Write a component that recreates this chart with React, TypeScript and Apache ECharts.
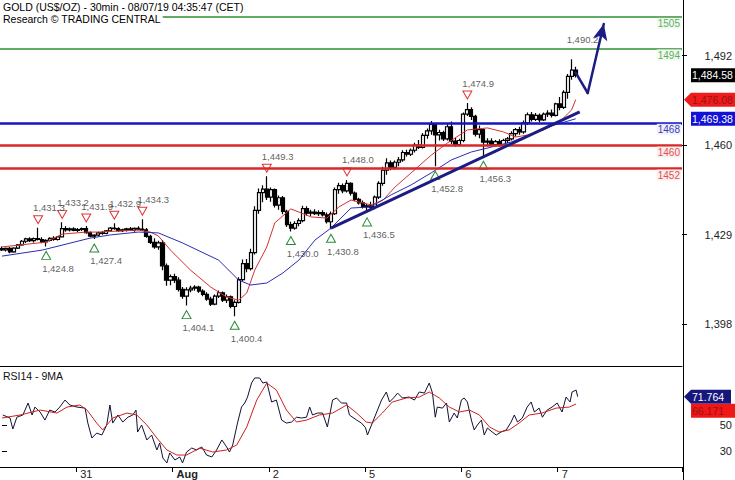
import React, { useEffect, useRef } from 'react';
import * as echarts from 'echarts';

const W = 735;
const H = 480;
const PLOT_RIGHT = 683;
const MAIN_TOP = 0;
const MAIN_H = 366;
const RSI_TOP = 366;
const RSI_H = 101;
const FONT = '"Liberation Sans", Arial, sans-serif';

// ---- time axis (hourly slots) ----
const dayNames = ['30', '31', 'Aug', '2', '5', '6', '7', '8'];
const dayBars = [19, 24, 24, 24, 24, 24, 24, 7];
const firstHour = 5;
const labelledDays = ['31', 'Aug', '2', '5', '6', '7'];

const categories: string[] = [];
dayNames.forEach((d, i) => {
  const start = i === 0 ? firstHour : 0;
  for (let k = 0; k < dayBars[i]; k++) categories.push(`${d}|${String(start + k).padStart(2, '0')}`);
});

// ---- price candles [open, high, low, close] ----
const candles: number[][] = [
  [1424.0, 1424.8, 1423.2, 1423.6], [1423.6, 1424.4, 1423.0, 1424.1], [1424.1, 1424.6, 1422.4, 1422.9],
  [1422.9, 1424.5, 1422.6, 1424.2], [1424.2, 1425.6, 1423.9, 1425.3], [1425.3, 1427.0, 1425.0, 1426.6],
  [1426.6, 1427.8, 1426.0, 1427.4], [1427.4, 1428.0, 1426.3, 1426.8], [1426.8, 1427.9, 1426.2, 1427.5],
  [1427.5, 1431.3, 1426.9, 1427.2], [1427.2, 1428.0, 1425.9, 1426.4], [1426.4, 1427.3, 1424.8, 1426.9],
  [1426.9, 1428.0, 1426.5, 1427.6], [1427.6, 1428.3, 1426.8, 1427.2], [1427.2, 1428.4, 1426.9, 1428.1],
  [1428.1, 1433.2, 1427.9, 1431.0], [1431.0, 1431.8, 1429.9, 1430.6], [1430.6, 1431.4, 1430.0, 1430.9],
  [1430.9, 1431.5, 1430.1, 1430.4], [1430.4, 1431.2, 1429.8, 1430.7], [1430.7, 1431.4, 1430.2, 1431.0],
  [1431.0, 1431.9, 1429.2, 1429.6], [1429.6, 1430.0, 1428.0, 1428.4], [1428.4, 1429.0, 1427.4, 1428.7],
  [1428.7, 1429.9, 1428.3, 1429.5], [1429.5, 1430.2, 1428.9, 1429.3], [1429.3, 1430.5, 1429.0, 1430.2],
  [1430.2, 1431.6, 1429.9, 1431.2], [1431.2, 1432.9, 1430.6, 1431.0], [1431.0, 1431.5, 1429.9, 1430.3],
  [1430.3, 1431.0, 1429.8, 1430.6], [1430.6, 1431.3, 1430.0, 1430.9], [1430.9, 1431.6, 1430.2, 1430.5],
  [1430.5, 1431.4, 1429.9, 1431.1], [1431.1, 1431.8, 1430.4, 1430.8], [1430.8, 1434.3, 1430.2, 1430.6],
  [1430.6, 1431.2, 1427.8, 1428.3], [1428.3, 1428.9, 1425.6, 1426.2], [1426.2, 1427.6, 1424.0, 1424.6],
  [1424.6, 1426.8, 1423.6, 1426.0], [1426.0, 1427.0, 1416.5, 1418.0], [1418.0, 1418.8, 1411.0, 1413.0],
  [1413.0, 1415.0, 1411.2, 1414.2], [1414.2, 1415.2, 1412.0, 1413.0], [1413.0, 1414.0, 1409.0, 1409.8],
  [1409.8, 1410.6, 1406.5, 1407.4], [1407.4, 1410.5, 1404.1, 1409.6], [1409.6, 1411.0, 1408.8, 1410.2],
  [1410.2, 1411.2, 1409.3, 1410.6], [1410.6, 1411.0, 1408.6, 1409.2], [1409.2, 1409.8, 1407.4, 1408.0],
  [1408.0, 1408.8, 1405.8, 1406.4], [1406.4, 1407.2, 1404.0, 1404.6], [1404.6, 1408.0, 1404.2, 1407.4],
  [1407.4, 1409.4, 1406.8, 1408.6], [1408.6, 1409.0, 1405.4, 1406.0], [1406.0, 1408.0, 1405.0, 1407.2],
  [1407.2, 1407.6, 1403.2, 1403.8], [1403.8, 1406.0, 1400.4, 1405.2], [1405.2, 1414.0, 1404.8, 1413.2],
  [1413.2, 1420.2, 1412.6, 1418.8], [1418.8, 1420.4, 1415.8, 1417.0], [1417.0, 1424.0, 1416.4, 1422.6],
  [1422.6, 1438.8, 1422.0, 1437.4], [1437.4, 1445.0, 1436.2, 1443.6], [1443.6, 1446.2, 1440.2, 1444.8],
  [1444.8, 1449.3, 1441.0, 1442.0], [1442.0, 1445.4, 1440.4, 1444.6], [1444.6, 1445.0, 1438.4, 1439.2],
  [1439.2, 1442.6, 1437.6, 1441.8], [1441.8, 1442.4, 1436.0, 1437.0], [1437.0, 1437.6, 1431.6, 1432.4],
  [1432.4, 1433.4, 1430.0, 1431.2], [1431.2, 1433.6, 1430.6, 1432.8], [1432.8, 1434.6, 1431.8, 1433.8],
  [1433.8, 1439.0, 1433.2, 1438.0], [1438.0, 1438.8, 1435.6, 1436.4], [1436.4, 1437.6, 1435.4, 1436.8],
  [1436.8, 1437.8, 1435.8, 1436.2], [1436.2, 1437.4, 1435.4, 1436.6], [1436.6, 1437.4, 1435.2, 1435.8],
  [1435.8, 1436.6, 1432.8, 1433.4], [1433.4, 1437.0, 1430.8, 1436.2], [1436.2, 1445.4, 1435.8, 1444.6],
  [1444.6, 1447.0, 1443.2, 1446.0], [1446.0, 1446.8, 1443.4, 1444.2], [1444.2, 1448.0, 1443.6, 1446.8],
  [1446.8, 1447.2, 1442.6, 1443.4], [1443.4, 1444.0, 1440.6, 1441.2], [1441.2, 1441.8, 1439.4, 1440.0],
  [1440.0, 1440.8, 1438.0, 1438.6], [1438.6, 1439.6, 1436.5, 1439.0], [1439.0, 1440.4, 1437.8, 1438.4],
  [1438.4, 1442.6, 1437.8, 1442.0], [1442.0, 1447.6, 1441.4, 1446.8], [1446.8, 1452.6, 1446.0, 1451.4],
  [1451.4, 1455.6, 1449.8, 1454.0], [1454.0, 1454.8, 1451.4, 1452.4], [1452.4, 1454.8, 1451.6, 1454.2],
  [1454.2, 1456.0, 1452.8, 1455.0], [1455.0, 1458.4, 1454.4, 1457.6], [1457.6, 1458.6, 1456.2, 1457.0],
  [1457.0, 1459.0, 1456.4, 1458.4], [1458.4, 1461.0, 1457.6, 1460.2], [1460.2, 1462.0, 1458.8, 1459.4],
  [1459.4, 1464.4, 1459.0, 1463.6], [1463.6, 1466.0, 1462.4, 1465.2], [1465.2, 1468.6, 1463.8, 1467.4],
  [1467.4, 1467.8, 1452.8, 1463.8], [1463.8, 1465.6, 1461.8, 1464.6], [1464.6, 1465.2, 1461.6, 1462.4],
  [1462.4, 1467.8, 1461.8, 1466.6], [1466.6, 1468.4, 1460.6, 1461.6], [1461.6, 1462.8, 1459.6, 1460.4],
  [1460.4, 1462.4, 1459.8, 1461.8], [1461.8, 1471.6, 1461.2, 1471.0], [1471.0, 1474.9, 1470.4, 1472.6],
  [1472.6, 1473.4, 1469.0, 1470.2], [1470.2, 1470.8, 1463.2, 1464.0], [1464.0, 1467.0, 1462.6, 1465.6],
  [1465.6, 1466.0, 1456.3, 1461.2], [1461.2, 1462.6, 1459.8, 1461.6], [1461.6, 1462.6, 1459.6, 1460.4],
  [1460.4, 1462.0, 1459.8, 1461.4], [1461.4, 1462.2, 1459.6, 1460.2], [1460.2, 1462.4, 1459.8, 1461.8],
  [1461.8, 1463.0, 1460.8, 1462.4], [1462.4, 1465.0, 1461.8, 1464.2], [1464.2, 1466.2, 1463.2, 1465.6],
  [1465.6, 1466.6, 1463.8, 1464.8], [1464.8, 1468.8, 1464.2, 1468.0], [1468.0, 1471.6, 1467.2, 1470.8],
  [1470.8, 1471.8, 1468.4, 1469.2], [1469.2, 1471.4, 1468.6, 1470.6], [1470.6, 1471.2, 1468.2, 1469.0],
  [1469.0, 1471.6, 1468.6, 1471.0], [1471.0, 1472.4, 1470.0, 1471.4], [1471.4, 1472.6, 1469.8, 1470.6],
  [1470.6, 1475.0, 1470.2, 1474.6], [1474.6, 1477.0, 1472.4, 1473.4], [1473.4, 1479.4, 1472.8, 1478.6],
  [1478.6, 1485.0, 1476.4, 1484.2], [1484.2, 1490.2, 1483.0, 1486.4], [1486.4, 1487.6, 1483.8, 1484.58],
];

// ---- moving averages on price [slot, value] ----
const redMA: number[][] = [
  [0, 1424.6], [11, 1426.3], [15, 1429.1], [21, 1429.8], [24, 1429.8], [34, 1430.5], [37, 1429.8],
  [39, 1428.4], [42, 1423.5], [47, 1416.5], [52, 1410.6], [56, 1407.1], [59, 1406.0], [61, 1408.5],
  [63, 1416.5], [66, 1424.6], [68, 1433.0], [72, 1437.9], [74, 1436.8], [77, 1435.1], [81, 1434.7],
  [84, 1438.6], [87, 1441.0], [89, 1440.3], [92, 1439.3], [95, 1441.0], [98, 1445.6], [102, 1450.5],
  [107, 1456.7], [111, 1460.9], [116, 1465.5], [121, 1466.2], [125, 1464.8], [128, 1463.0],
  [131, 1463.7], [135, 1465.5], [139, 1468.3], [142, 1472.5], [143, 1476.1],
];
const blueMA: number[][] = [
  [0, 1421.4], [10, 1423.5], [22, 1427.7], [27, 1428.8], [34, 1429.8], [39, 1429.5], [45, 1426.0],
  [54, 1420.0], [59, 1413.0], [62, 1411.3], [66, 1412.0], [70, 1415.5], [74, 1420.0], [78, 1427.0],
  [82, 1431.2], [87, 1438.2], [92, 1438.6], [97, 1442.8], [102, 1446.3], [107, 1450.5], [112, 1455.0],
  [117, 1457.8], [122, 1459.5], [127, 1461.3], [132, 1464.1], [137, 1466.9], [143, 1469.4],
];

// ---- swing points ----
const highIdx = [9, 15, 21, 28, 35, 66, 86, 116];
const highVal = [1431.3, 1433.2, 1431.9, 1432.9, 1434.3, 1449.3, 1448.0, 1474.9];
const peakIdx = 142;
const peakVal = 1490.2;
const lowIdx = [11, 23, 46, 58, 72, 82, 91, 108, 120];
const lowVal = [1424.8, 1427.4, 1404.1, 1400.4, 1430.0, 1430.8, 1436.5, 1452.8, 1456.3];

// ---- horizontal levels ----
const levelValues = [1505, 1494, 1468, 1460, 1452];
const levelKind = ['target', 'target', 'pivot', 'support', 'support'];

// ---- trendline and projection ----
const trendFrom = [82, 1431.2];
const trendTo = [144, 1471.8];
const projection = [[143, 1485.5], [146, 1478.4], [150, 1502.5]];

// ---- axis ticks ----
const priceTicks = [1397.6, 1428.9, 1460.2, 1491.5];
const rsiTicks = [30, 50];

// ---- last values ----
const lastClose = 1484.58;
const lastRedMA = 1476.08;
const lastBlueMA = 1469.38;
const lastRSI = 71.764;
const lastRSIMA = 66.171;

// ---- RSI (slot position, value) ----
const rsiPos = [
  0.2, 2.0, 2.7, 3.7, 5.2, 6.5, 7.5, 8.2, 9.5, 10.7, 11.9, 13.2, 14.4, 15.7, 16.9, 18.7, 20.7, 21.4,
  22.4, 23.6, 24.9, 26.1, 26.9, 27.6, 28.9, 30.1, 31.4, 32.6, 33.4, 33.8, 34.8, 36.1, 37.3, 38.6,
  39.3, 40.1, 41.1, 41.8, 43.1, 44.3, 45.0, 46.0, 47.3, 48.5, 49.8, 51.0, 52.3, 53.5, 54.8, 56.0,
  56.7, 57.5, 58.7, 59.7, 60.5, 61.2, 62.2, 63.0, 64.2, 65.0, 66.0, 67.2, 68.4, 69.7, 70.9, 72.2,
  73.4, 74.7, 75.9, 76.7, 77.4, 78.6, 79.9, 81.1, 82.4, 83.4, 84.6, 85.9, 86.6, 88.4, 89.6, 90.6,
  91.1, 92.1, 93.3, 94.6, 95.8, 96.6, 97.8, 98.6, 99.8, 101.5, 102.8, 104.0, 105.3, 106.5, 107.3,
  108.0, 108.5, 109.8, 110.8, 111.5, 112.7, 113.5, 114.5, 115.2, 116.0, 117.0, 117.7, 118.5, 119.5,
  120.2, 121.0, 122.2, 123.2, 124.4, 125.7, 126.9, 127.7, 128.5, 129.7, 130.9, 131.9, 132.7, 133.9,
  134.7, 135.9, 137.1, 138.4, 139.6, 140.6, 141.6, 142.1, 143.1, 143.5,
];
const rsiVal = [
  57.7, 55.4, 46.9, 56.0, 57.7, 66.9, 57.7, 63.8, 60.0, 53.8, 61.5, 60.0, 63.8, 69.2, 65.4, 63.8, 63.0, 51.5,
  40.0, 43.8, 42.3, 50.0, 65.4, 51.5, 57.7, 52.3, 56.0, 57.7, 61.5, 44.6, 50.0, 38.5, 42.3, 30.8,
  36.2, 24.6, 20.8, 28.5, 23.1, 25.4, 20.8, 29.2, 32.3, 30.8, 33.1, 26.9, 25.4, 30.8, 38.5, 33.1,
  29.2, 34.6, 51.5, 63.8, 66.9, 71.5, 82.3, 86.2, 86.2, 82.3, 83.1, 67.7, 69.2, 53.8, 51.5, 52.3,
  56.0, 55.4, 56.0, 63.8, 57.7, 59.2, 59.2, 48.5, 69.2, 70.8, 66.9, 66.9, 57.7, 53.8, 51.5, 48.0,
  42.3, 50.0, 59.2, 69.2, 75.4, 67.7, 71.5, 74.6, 70.8, 71.5, 69.2, 75.4, 74.6, 82.3, 74.6,
  56.0, 63.8, 63.0, 66.9, 52.3, 59.2, 55.4, 69.2, 70.8, 67.7, 53.8, 46.2, 50.0, 53.8,
  42.3, 47.7, 44.6, 42.3, 44.6, 46.2, 52.3, 57.7, 52.3, 55.4, 63.8, 67.7, 60.0, 63.0,
  56.0, 61.5, 63.8, 66.9, 60.0, 71.5, 67.7, 75.4, 76.9, 71.8,
];
const rsiMAPos = [
  0, 4.5, 9.5, 13.7, 16.2, 19.4, 21.2, 23.6, 25.1, 27.6, 31.1, 33.6, 36.1, 38.6, 41.1, 43.6, 46.0, 49.3,
  52.5, 56.0, 58.5, 61.0, 63.5, 66.0, 68.4, 70.9, 73.4, 75.9, 79.1, 82.4, 85.9, 88.4, 90.8, 92.3, 94.8,
  97.3, 100.8, 104.0, 106.5, 109.0, 111.5, 114.0, 116.5, 119.0, 121.5, 123.9, 126.4, 128.9, 131.4,
  134.6, 138.1, 141.4, 143.1,
];
const rsiMAVal = [
  55.4, 57.7, 61.5, 59.2, 63.8, 65.4, 61.5, 51.5, 46.2, 55.4, 59.2, 57.7, 50.0, 40.0, 30.8, 26.9, 26.9, 32.3,
  29.2, 30.8, 34.6, 48.5, 69.2, 82.3, 76.9, 61.5, 52.3, 53.8, 57.7, 59.2, 65.4, 59.2, 52.3, 51.5, 59.2,
  67.7, 70.8, 71.5, 75.4, 70.8, 63.8, 60.0, 61.5, 57.7, 48.5, 44.6, 46.2, 51.5, 57.7,
  59.2, 63.0, 63.8, 66.171,
];

const fmt1 = (v: number) => v.toLocaleString('en-US', { minimumFractionDigits: 1, maximumFractionDigits: 1 });
const fmt2 = (v: number) => v.toLocaleString('en-US', { minimumFractionDigits: 2, maximumFractionDigits: 2 });

const levelStyle: Record<string, any> = {
  target: { color: '#2f8f2f', width: 1.5, text: '#5fae5f', bg: 'rgba(240,250,240,0.9)' },
  pivot: { color: '#1414c8', width: 2.5, text: '#3a3ab8', bg: 'rgba(240,240,252,0.9)' },
  support: { color: '#d82828', width: 2.5, text: '#e05050', bg: 'rgba(252,236,236,0.9)' },
};

const isDayStart = (_i: number, value: string) => {
  const [d, h] = String(value).split('|');
  return h === '00' && labelledDays.includes(d);
};

export default function App() {
  const ref = useRef<HTMLDivElement>(null);

  useEffect(() => {
    if (!ref.current) return;
    const chart = echarts.init(ref.current, undefined, { renderer: 'svg' });
    const navy = '#1c1c84';
    const trendStyle = { color: navy, width: 3, type: 'solid' };
    const projStyle = { color: navy, width: 2.5, type: 'solid', cap: 'round' };

    const markLineData: any[] = levelValues.map((v, i) => {
      const s = levelStyle[levelKind[i]];
      return {
        yAxis: v,
        lineStyle: { color: s.color, width: s.width, type: 'solid' },
        label: {
          show: true, formatter: String(v), position: 'insideEndBottom', distance: 1,
          color: s.text, backgroundColor: s.bg, fontSize: 10, fontFamily: FONT, padding: [1, 1, 0, 1],
        },
      };
    });
    markLineData.push([
      { coord: trendFrom, symbol: 'none', lineStyle: trendStyle, label: { show: false } },
      { coord: trendTo, symbol: 'none', lineStyle: trendStyle, label: { show: false } },
    ]);
    for (let k = 0; k < projection.length - 1; k++) {
      const last = k === projection.length - 2;
      markLineData.push([
        { coord: projection[k], symbol: 'none', lineStyle: projStyle, label: { show: false } },
        { coord: projection[k + 1], symbol: last ? 'arrow' : 'none', symbolSize: [11, 16], lineStyle: projStyle, label: { show: false } },
      ]);
    }

    const option: any = {
      animation: false,
      backgroundColor: '#ffffff',
      grid: [
        { left: 0, right: W - PLOT_RIGHT, top: MAIN_TOP, height: MAIN_H },
        { left: 0, right: W - PLOT_RIGHT, top: RSI_TOP, height: RSI_H },
      ],
      xAxis: [
        {
          type: 'category', gridIndex: 0, data: categories, boundaryGap: true,
          axisLine: { show: true, lineStyle: { color: '#000', width: 1 } },
          axisTick: { show: false }, axisLabel: { show: false }, splitLine: { show: false },
        },
        {
          type: 'category', gridIndex: 1, data: categories, boundaryGap: true,
          axisLine: { show: true, lineStyle: { color: '#000', width: 1 } },
          axisTick: { show: true, interval: isDayStart, length: 5, lineStyle: { color: '#000' } },
          axisLabel: {
            interval: isDayStart, align: 'left', margin: 1, padding: [0, 0, 0, 2],
            fontSize: 11, fontFamily: FONT, color: '#222',
            formatter: (v: string) => {
              const d = String(v).split('|')[0];
              return d === 'Aug' ? '{b|Aug}' : d;
            },
            rich: { b: { fontWeight: 'bold', fontSize: 11, fontFamily: FONT, color: '#222' } },
          },
          splitLine: { show: false },
        },
        { type: 'value', gridIndex: 1, min: -0.5, max: categories.length - 0.5, show: false },
      ],
      yAxis: [
        {
          type: 'value', gridIndex: 0, position: 'right', min: 1383.0, max: 1510.9,
          axisLine: { show: false },
          axisTick: { show: true, customValues: priceTicks, length: 5, lineStyle: { color: '#000' } },
          axisLabel: {
            customValues: priceTicks, align: 'right', margin: 50, fontSize: 11, fontFamily: FONT, color: '#222',
            formatter: (v: number) => Math.round(v).toLocaleString('en-US'),
          },
          splitLine: { show: false },
        },
        {
          type: 'value', gridIndex: 1, position: 'right', min: 17.7, max: 95.4,
          axisLine: { show: false },
          axisTick: { show: true, customValues: rsiTicks, length: 5, lineStyle: { color: '#000' } },
          axisLabel: {
            customValues: rsiTicks, align: 'right', margin: 50, fontSize: 11, fontFamily: FONT, color: '#222',
            formatter: (v: number) => String(Math.round(v)),
          },
          splitLine: { show: false },
        },
      ],
      series: [
        {
          type: 'candlestick', xAxisIndex: 0, yAxisIndex: 0, z: 2, silent: true,
          barWidth: 3.6,
          data: candles.map(([o, h, l, c]) => [o, c, l, h]),
          itemStyle: { color: '#ffffff', color0: '#000000', borderColor: '#000000', borderColor0: '#000000', borderWidth: 1.2 },
        },
        {
          type: 'line', xAxisIndex: 0, yAxisIndex: 0, z: 3, silent: true, showSymbol: false, symbol: 'none',
          data: redMA, lineStyle: { color: '#d63030', width: 1 },
        },
        {
          type: 'line', xAxisIndex: 0, yAxisIndex: 0, z: 3, silent: true, showSymbol: false, symbol: 'none',
          data: blueMA, lineStyle: { color: '#2c2cb4', width: 1 },
          markLine: {
            silent: true, symbol: ['none', 'none'], animation: false,
            label: { show: false }, data: markLineData,
          },
        },
        {
          type: 'scatter', xAxisIndex: 0, yAxisIndex: 0, z: 4, silent: true,
          data: highIdx.map((x, i) => [x, highVal[i]]),
          symbol: 'path://M0,0L10,0L5,9Z', symbolSize: [9, 8], symbolOffset: [0, -8],
          itemStyle: { color: '#ffffff', borderColor: '#e03535', borderWidth: 1, opacity: 1 },
        },
        {
          type: 'scatter', xAxisIndex: 0, yAxisIndex: 0, z: 4, silent: true,
          data: lowIdx.map((x, i) => [x, lowVal[i]]),
          symbol: 'path://M5,0L10,9L0,9Z', symbolSize: [9, 8], symbolOffset: [0, 9],
          itemStyle: { color: '#ffffff', borderColor: '#2a8a3a', borderWidth: 1, opacity: 1 },
        },
        {
          type: 'scatter', xAxisIndex: 0, yAxisIndex: 0, z: 5, silent: true,
          data: [...highIdx.map((x, i) => [x, highVal[i]]), [peakIdx, peakVal]],
          symbolSize: 1, itemStyle: { color: 'rgba(0,0,0,0)' },
          label: {
            show: true, position: 'inside', align: 'left', verticalAlign: 'middle', offset: [-5, -20],
            fontSize: 9.5, fontFamily: FONT, color: '#333',
            formatter: (p: any) => fmt1(p.value[1]),
          },
        },
        {
          type: 'scatter', xAxisIndex: 0, yAxisIndex: 0, z: 5, silent: true,
          data: lowIdx.map((x, i) => [x, lowVal[i]]),
          symbolSize: 1, itemStyle: { color: 'rgba(0,0,0,0)' },
          label: {
            show: true, position: 'inside', align: 'left', verticalAlign: 'middle', offset: [-4, 22],
            fontSize: 9.5, fontFamily: FONT, color: '#333',
            formatter: (p: any) => fmt1(p.value[1]),
          },
        },
        {
          type: 'line', xAxisIndex: 2, yAxisIndex: 1, z: 3, silent: true, showSymbol: false, symbol: 'none',
          data: rsiPos.map((x, i) => [x, rsiVal[i]]), lineStyle: { color: '#111133', width: 1 },
        },
        {
          type: 'line', xAxisIndex: 2, yAxisIndex: 1, z: 3, silent: true, showSymbol: false, symbol: 'none',
          data: rsiMAPos.map((x, i) => [x, rsiMAVal[i]]), lineStyle: { color: '#cc2020', width: 1 },
        },
      ],
    };

    chart.setOption(option);

    const py = (v: number) => chart.convertToPixel({ yAxisIndex: 0 } as any, v) as number;
    const ry = (v: number) => chart.convertToPixel({ yAxisIndex: 1 } as any, v) as number;
    const axisX = PLOT_RIGHT + 0.5;
    const boxL = PLOT_RIGHT + 8;
    const boxFont = `10.5px ${FONT}`;

    const arrowBox = (y: number, fill: string, textFill: string, text: string, right: number) => [
      {
        type: 'polygon', z: 100, silent: true,
        shape: { points: [[PLOT_RIGHT + 1, y], [boxL, y - 7], [right, y - 7], [right, y + 7], [boxL, y + 7]] },
        style: { fill },
      },
      {
        type: 'text', z: 101, silent: true,
        style: { text, x: boxL + 1, y, fill: textFill, font: boxFont, verticalAlign: 'middle', align: 'left' },
      },
    ];
    const rectBox = (y: number, fill: string, textFill: string, text: string) => [
      { type: 'rect', z: 100, silent: true, shape: { x: boxL, y: y - 7, width: W - boxL + 5, height: 14 }, style: { fill } },
      {
        type: 'text', z: 101, silent: true,
        style: { text, x: boxL + 1, y, fill: textFill, font: boxFont, verticalAlign: 'middle', align: 'left' },
      },
    ];

    const yClose = py(lastClose);
    const yRed = py(lastRedMA);
    const yBlue = py(lastBlueMA);
    const yRsi = ry(lastRSI);
    const yRsiMA = Math.max(ry(lastRSIMA), yRsi + 14);

    const graphic: any[] = [
      {
        type: 'line', z: 50, silent: true,
        shape: { x1: axisX, y1: 0, x2: axisX, y2: H },
        style: { stroke: '#000', lineWidth: 1 },
      },
      {
        type: 'text', z: 60, silent: true,
        style: {
          text: 'GOLD (US$/OZ) - 30min - 08/07/19 04:35:47 (CET)', x: 3, y: 7,
          fill: '#000', font: `10.5px ${FONT}`, verticalAlign: 'middle', align: 'left',
        },
      },
      {
        type: 'text', z: 60, silent: true,
        style: {
          text: 'Research © TRADING CENTRAL', x: 0, y: 19,
          fill: '#000', font: `10.5px ${FONT}`, verticalAlign: 'middle', align: 'left',
          backgroundColor: '#ffffff', padding: [1, 2, 1, 3],
        },
      },
      {
        type: 'text', z: 60, silent: true,
        style: {
          text: 'RSI14 - 9MA', x: 3, y: RSI_TOP + 10,
          fill: '#111', font: `10.5px ${FONT}`, verticalAlign: 'middle', align: 'left',
        },
      },
      ...rectBox(yClose, '#000000', '#ffffff', fmt2(lastClose)),
      ...arrowBox(yRed, '#ee1c1c', '#a01010', fmt2(lastRedMA), W + 5),
      ...rectBox(yBlue, '#1212d6', '#ffffff', fmt2(lastBlueMA)),
      ...arrowBox(yRsi, '#16167c', '#ffffff', lastRSI.toFixed(3), PLOT_RIGHT + 48),
      ...rectBox(yRsiMA, '#ee1818', '#a01010', lastRSIMA.toFixed(3)),
    ];
    chart.setOption({ graphic });

    return () => chart.dispose();
  }, []);

  return (
    <div
      ref={ref}
      style={{ position: 'fixed', left: 0, top: 0, width: W, height: H, background: '#fff' }}
    />
  );
}
